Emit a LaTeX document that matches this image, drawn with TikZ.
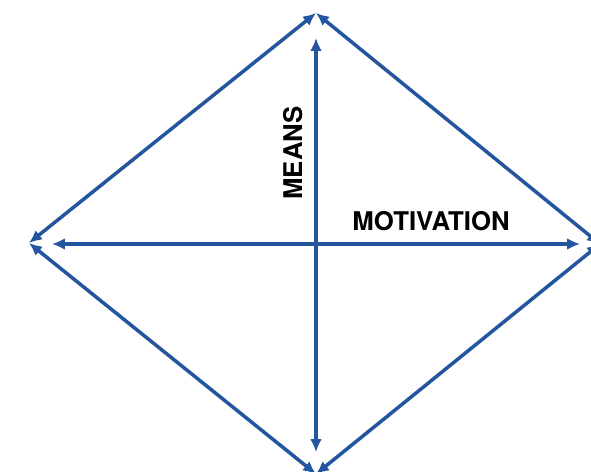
\documentclass[tikz,border=0pt]{standalone}
\usepackage{fontspec}
\setmainfont{TeX Gyre Heros}
\usetikzlibrary{arrows.meta}
\definecolor{diablue}{RGB}{36,86,160}

\begin{document}
\begin{tikzpicture}[x=0.03cm,y=-0.03cm,
    edge/.style={diablue,line width=3pt,{Latex[length=11pt,width=10pt]}-{Latex[length=11pt,width=10pt]}},
    axislabel/.style={font=\fontsize{22}{24}\selectfont\bfseries,text=black,inner sep=0pt}]
    \useasboundingbox (0,0) rectangle (591,471);
    \clip (0,0) rectangle (591,471);
    \coordinate (Top) at (316,13);
    \coordinate (Left) at (29,243);
    \coordinate (Right) at (600,244);
    \coordinate (Bottom) at (316,474);
    \coordinate (Vt) at (316,38);
    \coordinate (Vb) at (316,452);
    \coordinate (Hl) at (52,244);
    \coordinate (Hr) at (580,244);
    % diamond
    \draw[edge] (Left) -- (Top);
    \draw[edge] (Top) -- (Right);
    \draw[edge] (Right) -- (Bottom);
    \draw[edge] (Bottom) -- (Left);
    % axes
    \draw[edge] (Vb) -- (Vt);
    \draw[edge] (Hl) -- (Hr);
    \node[axislabel,rotate=90] (means) at (293,153) {MEANS};
    \node[axislabel] (motivation) at (431,221) {MOTIVATION};
\end{tikzpicture}
\end{document}
